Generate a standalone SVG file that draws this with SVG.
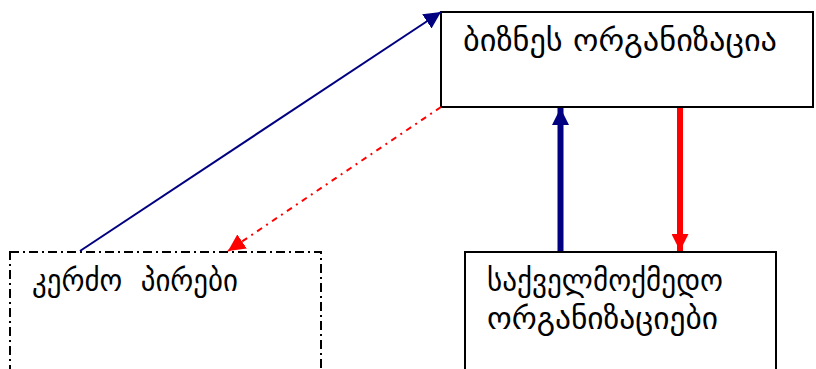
<svg xmlns="http://www.w3.org/2000/svg" width="816" height="369" viewBox="0 0 816 369">
<defs>
<style>
.box{fill:#fff;stroke:#000;stroke-width:2}
.dd{fill:#fff;stroke:#000;stroke-width:2;stroke-dasharray:9 4 2 4}
.t{font-family:"DejaVu Sans",sans-serif;font-size:30px;fill:#000;white-space:pre}
</style>
<marker id="an2" viewBox="0 0 10 10" refX="10" refY="5" markerWidth="17" markerHeight="17" markerUnits="userSpaceOnUse" orient="auto"><path d="M0,0 L10,5 L0,10 z" fill="#000080"/></marker>
<marker id="ar" viewBox="0 0 10 10" refX="10" refY="5" markerWidth="17" markerHeight="17" markerUnits="userSpaceOnUse" orient="auto"><path d="M0,0 L10,5 L0,10 z" fill="#ff0000"/></marker>
</defs>
<g id="biz">
<rect class="box" x="441" y="12" width="372" height="95"/>
<text class="t" x="463" y="51" textLength="314" lengthAdjust="spacingAndGlyphs">ბიზნეს ორგანიზაცია</text>
</g>
<g id="kerdzo">
<rect class="dd" x="10" y="252" width="311" height="130"/>
<text class="t" x="32" y="291" xml:space="preserve" textLength="206" lengthAdjust="spacingAndGlyphs">კერძო  პირები</text>
</g>
<g id="sakvel">
<rect class="box" x="465" y="252" width="311" height="130"/>
<text class="t" x="487" y="291" textLength="236" lengthAdjust="spacingAndGlyphs">საქველმოქმედო</text>
<text class="t" x="487" y="329" textLength="231" lengthAdjust="spacingAndGlyphs">ორგანიზაციები</text>
</g>
<g id="connectors">
<line x1="80" y1="251" x2="441" y2="12" stroke="#000080" stroke-width="2" marker-end="url(#an2)"/>
<line x1="441" y1="107" x2="228" y2="251" stroke="#ff0000" stroke-width="2" stroke-dasharray="6 5 2 5" marker-end="url(#ar)"/>
<line x1="560.5" y1="251" x2="560.5" y2="108" stroke="#000080" stroke-width="6" marker-end="url(#an2)"/>
<line x1="680" y1="108" x2="680" y2="251" stroke="#ff0000" stroke-width="6" marker-end="url(#ar)"/>
</g>
</svg>
